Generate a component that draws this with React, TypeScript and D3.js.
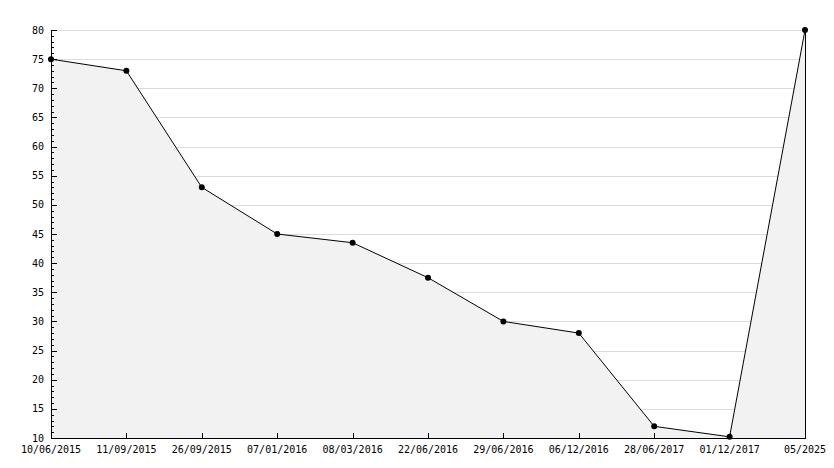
import React from "react";
import * as d3 from "d3";

const categories = ["10/06/2015", "11/09/2015", "26/09/2015", "07/01/2016", "08/03/2016", "22/06/2016", "29/06/2016", "06/12/2016", "28/06/2017", "01/12/2017", "05/2025"];
const values = [75, 73, 53, 45, 43.5, 37.5, 30, 28, 12, 10.2, 80];
const yTicks = [10, 15, 20, 25, 30, 35, 40, 45, 50, 55, 60, 65, 70, 75, 80];

const W = 834, H = 468;
const left = 51, right = 805, top = 30, bottom = 438;

export default function App() {
  const x = d3.scalePoint<string>().domain(categories).range([left, right]);
  const y = d3.scaleLinear().domain([10, 80]).range([bottom, top]);
  const minor = d3.range(10, 81, 1).filter((v) => v % 5 !== 0);
  const pts: [number, number][] = categories.map((c, i) => [x(c)!, y(values[i])]);
  const area = d3.area<[number, number]>().x((d) => d[0]).y0(bottom).y1((d) => d[1]);
  const line = d3.line<[number, number]>().x((d) => d[0]).y((d) => d[1]);
  const font = "'DejaVu Sans Mono', monospace";
  return (
    <svg width={W} height={H} style={{ position: "absolute", left: 0, top: 0, background: "#fff" }}>
      <rect x={0} y={0} width={W} height={H} fill="#fff" />
      {yTicks.map((t) => (
        <line key={"g" + t} x1={left} x2={right} y1={Math.round(y(t)) + 0.5} y2={Math.round(y(t)) + 0.5} stroke="#dcdcdc" strokeWidth={1} shapeRendering="crispEdges" />
      ))}
      <path d={area(pts)!} fill="#f2f2f2" stroke="none" />
      <line x1={right + 0.5} x2={right + 0.5} y1={y(80)} y2={bottom} stroke="#000" shapeRendering="crispEdges" />
      <path d={line(pts)!} fill="none" stroke="#000" strokeWidth={1} />
      {/* y axis */}
      <line x1={left + 0.5} x2={left + 0.5} y1={top} y2={bottom} stroke="#000" shapeRendering="crispEdges" />
      {yTicks.map((t) => (
        <g key={"t" + t}>
          <line x1={left} x2={left + 6} y1={Math.round(y(t)) + 0.5} y2={Math.round(y(t)) + 0.5} stroke="#000" shapeRendering="crispEdges" />
          <text x={44} y={y(t)} dy="0.35em" textAnchor="end" fontFamily={font} fontSize={10} fill="#000">{t}</text>
        </g>
      ))}
      {minor.map((t) => (
        <line key={"m" + t} x1={left} x2={left + 3} y1={Math.round(y(t)) + 0.5} y2={Math.round(y(t)) + 0.5} stroke="#000" shapeRendering="crispEdges" />
      ))}
      {/* x axis */}
      <line x1={left} x2={right + 1} y1={bottom + 0.5} y2={bottom + 0.5} stroke="#000" shapeRendering="crispEdges" />
      {categories.map((c) => (
        <g key={"x" + c}>
          <line x1={Math.round(x(c)!) + 0.5} x2={Math.round(x(c)!) + 0.5} y1={bottom} y2={bottom - 5} stroke="#000" shapeRendering="crispEdges" />
          <text x={x(c)!} y={449} dy="0.35em" textAnchor="middle" fontFamily={font} fontSize={10} fill="#000">{c}</text>
        </g>
      ))}
      {pts.map((p, i) => (
        <circle key={"p" + i} cx={p[0]} cy={p[1]} r={3} fill="#000" />
      ))}
    </svg>
  );
}
